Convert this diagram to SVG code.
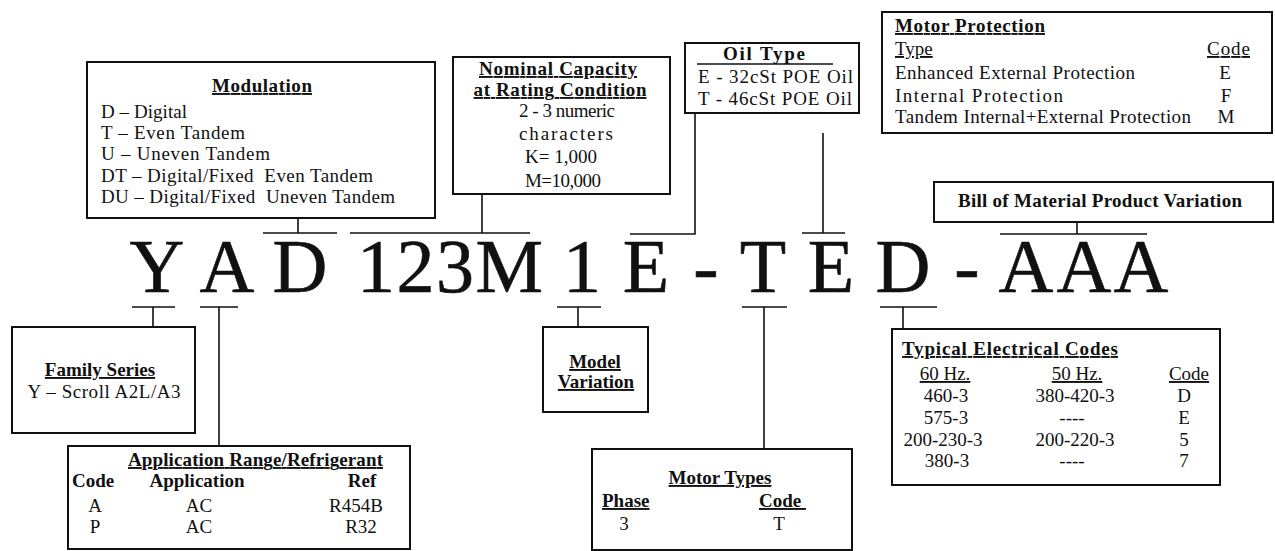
<svg xmlns="http://www.w3.org/2000/svg" width="1275" height="551" viewBox="0 0 1275 551">
<style>
.box{fill:#fff;stroke:#111;stroke-width:2}
.t{font-family:"Liberation Serif","Times New Roman",serif;font-size:19px;fill:#111}
.b{font-weight:bold}
.u{text-decoration:underline}
.m{text-anchor:middle}
.pre{white-space:pre}
.big{font-family:"Liberation Serif","Times New Roman",serif;font-size:76px;fill:#111;stroke:#111;stroke-width:0.6;text-anchor:middle}
.c{stroke:#111;stroke-width:1.6;fill:none}
</style>
<rect width="1275" height="551" fill="#fff"/>

<g id="connectors">
<path class="c" d="M298,218V233M263,233H337"/>
<path class="c" d="M482,194V233M350,233H530"/>
<path class="c" d="M695,113V234H630"/>
<path class="c" d="M823,133V233M802,233H845"/>
<path class="c" d="M1077,222V234M1000,234H1147"/>
<path class="c" d="M132,307H175M153,307V327"/>
<path class="c" d="M200,307H238M219,307V446"/>
<path class="c" d="M557,307H601M578,307V327"/>
<path class="c" d="M742,307H787M764,307V449"/>
<path class="c" d="M880,307H937M903,307V329"/>
</g>

<g id="code">
<text class="big" x="157" y="292">Y</text>
<text class="big" x="227" y="292">A</text>
<text class="big" x="300" y="292">D</text>
<text class="big" x="450" y="292" textLength="186">123M</text>
<text class="big" x="582" y="292">1</text>
<text class="big" x="646" y="292">E</text>
<text class="big" x="706" y="292">-</text>
<text class="big" x="763" y="292">T</text>
<text class="big" x="831" y="292">E</text>
<text class="big" x="903" y="292">D</text>
<text class="big" x="967" y="292">-</text>
<text class="big" x="1026" y="292">A</text>
<text class="big" x="1084" y="292">A</text>
<text class="big" x="1141" y="292">A</text>
</g>

<g id="modulation">
<rect class="box" x="87" y="62" width="348" height="156"/>
<text class="t b u m" x="262" y="92" textLength="100">Modulation</text>
<text class="t" x="101" y="118" textLength="86">D – Digital</text>
<text class="t" x="101" y="139" textLength="144">T – Even Tandem</text>
<text class="t" x="101" y="160" textLength="169">U – Uneven Tandem</text>
<text class="t pre" x="101" y="182" textLength="272">DT – Digital/Fixed  Even Tandem</text>
<text class="t pre" x="101" y="203" textLength="294">DU – Digital/Fixed  Uneven Tandem</text>
</g>

<g id="nominal-capacity">
<rect class="box" x="453" y="57" width="217" height="137"/>
<text class="t b u m" x="558" y="75" textLength="158">Nominal Capacity</text>
<text class="t b u m" x="560" y="96" textLength="173">at Rating Condition</text>
<text class="t m" x="567" y="117" textLength="96">2 - 3 numeric</text>
<text class="t m" x="566" y="140" textLength="94">characters</text>
<text class="t m" x="561" y="163" textLength="72">K= 1,000</text>
<text class="t m" x="563" y="187" textLength="76">M=10,000</text>
</g>

<g id="oil-type">
<rect class="box" x="685" y="43" width="174" height="70"/>
<text class="t b m" x="764" y="60" textLength="82">Oil Type</text>
<line class="c" x1="697" y1="64" x2="833" y2="64"/>
<text class="t" x="698" y="83" textLength="155">E - 32cSt POE Oil</text>
<text class="t" x="698" y="105" textLength="154">T - 46cSt POE Oil</text>
</g>

<g id="motor-protection">
<rect class="box" x="882" y="12" width="390" height="121"/>
<text class="t b u" x="895" y="32" textLength="150">Motor Protection</text>
<text class="t u" x="895" y="55">Type</text>
<text class="t u" x="1207" y="55" textLength="43">Code</text>
<text class="t" x="895" y="79" textLength="240">Enhanced External Protection</text>
<text class="t" x="895" y="102" textLength="168">Internal Protection</text>
<text class="t" x="895" y="123" textLength="296">Tandem Internal+External Protection</text>
<text class="t m" x="1225" y="79">E</text>
<text class="t m" x="1226" y="102">F</text>
<text class="t m" x="1226" y="123">M</text>
</g>

<g id="bill-of-material">
<rect class="box" x="934" y="182" width="339" height="40"/>
<text class="t b" x="958" y="207" textLength="284">Bill of Material Product Variation</text>
</g>

<g id="family-series">
<rect class="box" x="12" y="327" width="183" height="106"/>
<text class="t b u m" x="100" y="376">Family Series</text>
<text class="t m" x="104" y="398" textLength="153">Y – Scroll  A2L/A3</text>
</g>

<g id="application-range">
<rect class="box" x="68" y="446" width="342" height="103"/>
<text class="t b u" x="128" y="466" textLength="255">Application Range/Refrigerant</text>
<text class="t b" x="72" y="487">Code</text>
<text class="t b m" x="197" y="487">Application</text>
<text class="t b m" x="362" y="487">Ref</text>
<text class="t m" x="95" y="512">A</text>
<text class="t m" x="199" y="512">AC</text>
<text class="t m" x="356" y="512">R454B</text>
<text class="t m" x="95" y="533">P</text>
<text class="t m" x="199" y="533">AC</text>
<text class="t m" x="361" y="533">R32</text>
</g>

<g id="model-variation">
<rect class="box" x="543" y="327" width="105" height="85"/>
<text class="t b u m" x="595" y="368">Model</text>
<text class="t b u m" x="596" y="388">Variation</text>
</g>

<g id="motor-types">
<rect class="box" x="592" y="449" width="260" height="101"/>
<text class="t b u m" x="720" y="484">Motor Types</text>
<text class="t b u" x="602" y="507">Phase</text>
<text class="t b u pre" x="759" y="507">Code </text>
<text class="t m" x="624" y="530">3</text>
<text class="t m" x="779" y="530">T</text>
</g>

<g id="electrical-codes">
<rect class="box" x="892" y="329" width="328" height="156"/>
<text class="t b u" x="902" y="355" textLength="216">Typical Electrical Codes</text>
<text class="t u m" x="945" y="380">60 Hz.</text>
<text class="t u m" x="1077" y="380">50 Hz.</text>
<text class="t u m" x="1189" y="380">Code</text>
<text class="t m" x="946" y="402">460-3</text>
<text class="t m" x="1075" y="402">380-420-3</text>
<text class="t m" x="1184" y="402">D</text>
<text class="t m" x="946" y="424">575-3</text>
<text class="t m" x="1072" y="424">----</text>
<text class="t m" x="1184" y="424">E</text>
<text class="t m" x="943" y="446">200-230-3</text>
<text class="t m" x="1075" y="446">200-220-3</text>
<text class="t m" x="1184" y="446">5</text>
<text class="t m" x="947" y="467">380-3</text>
<text class="t m" x="1072" y="467">----</text>
<text class="t m" x="1184" y="467">7</text>
</g>
</svg>
